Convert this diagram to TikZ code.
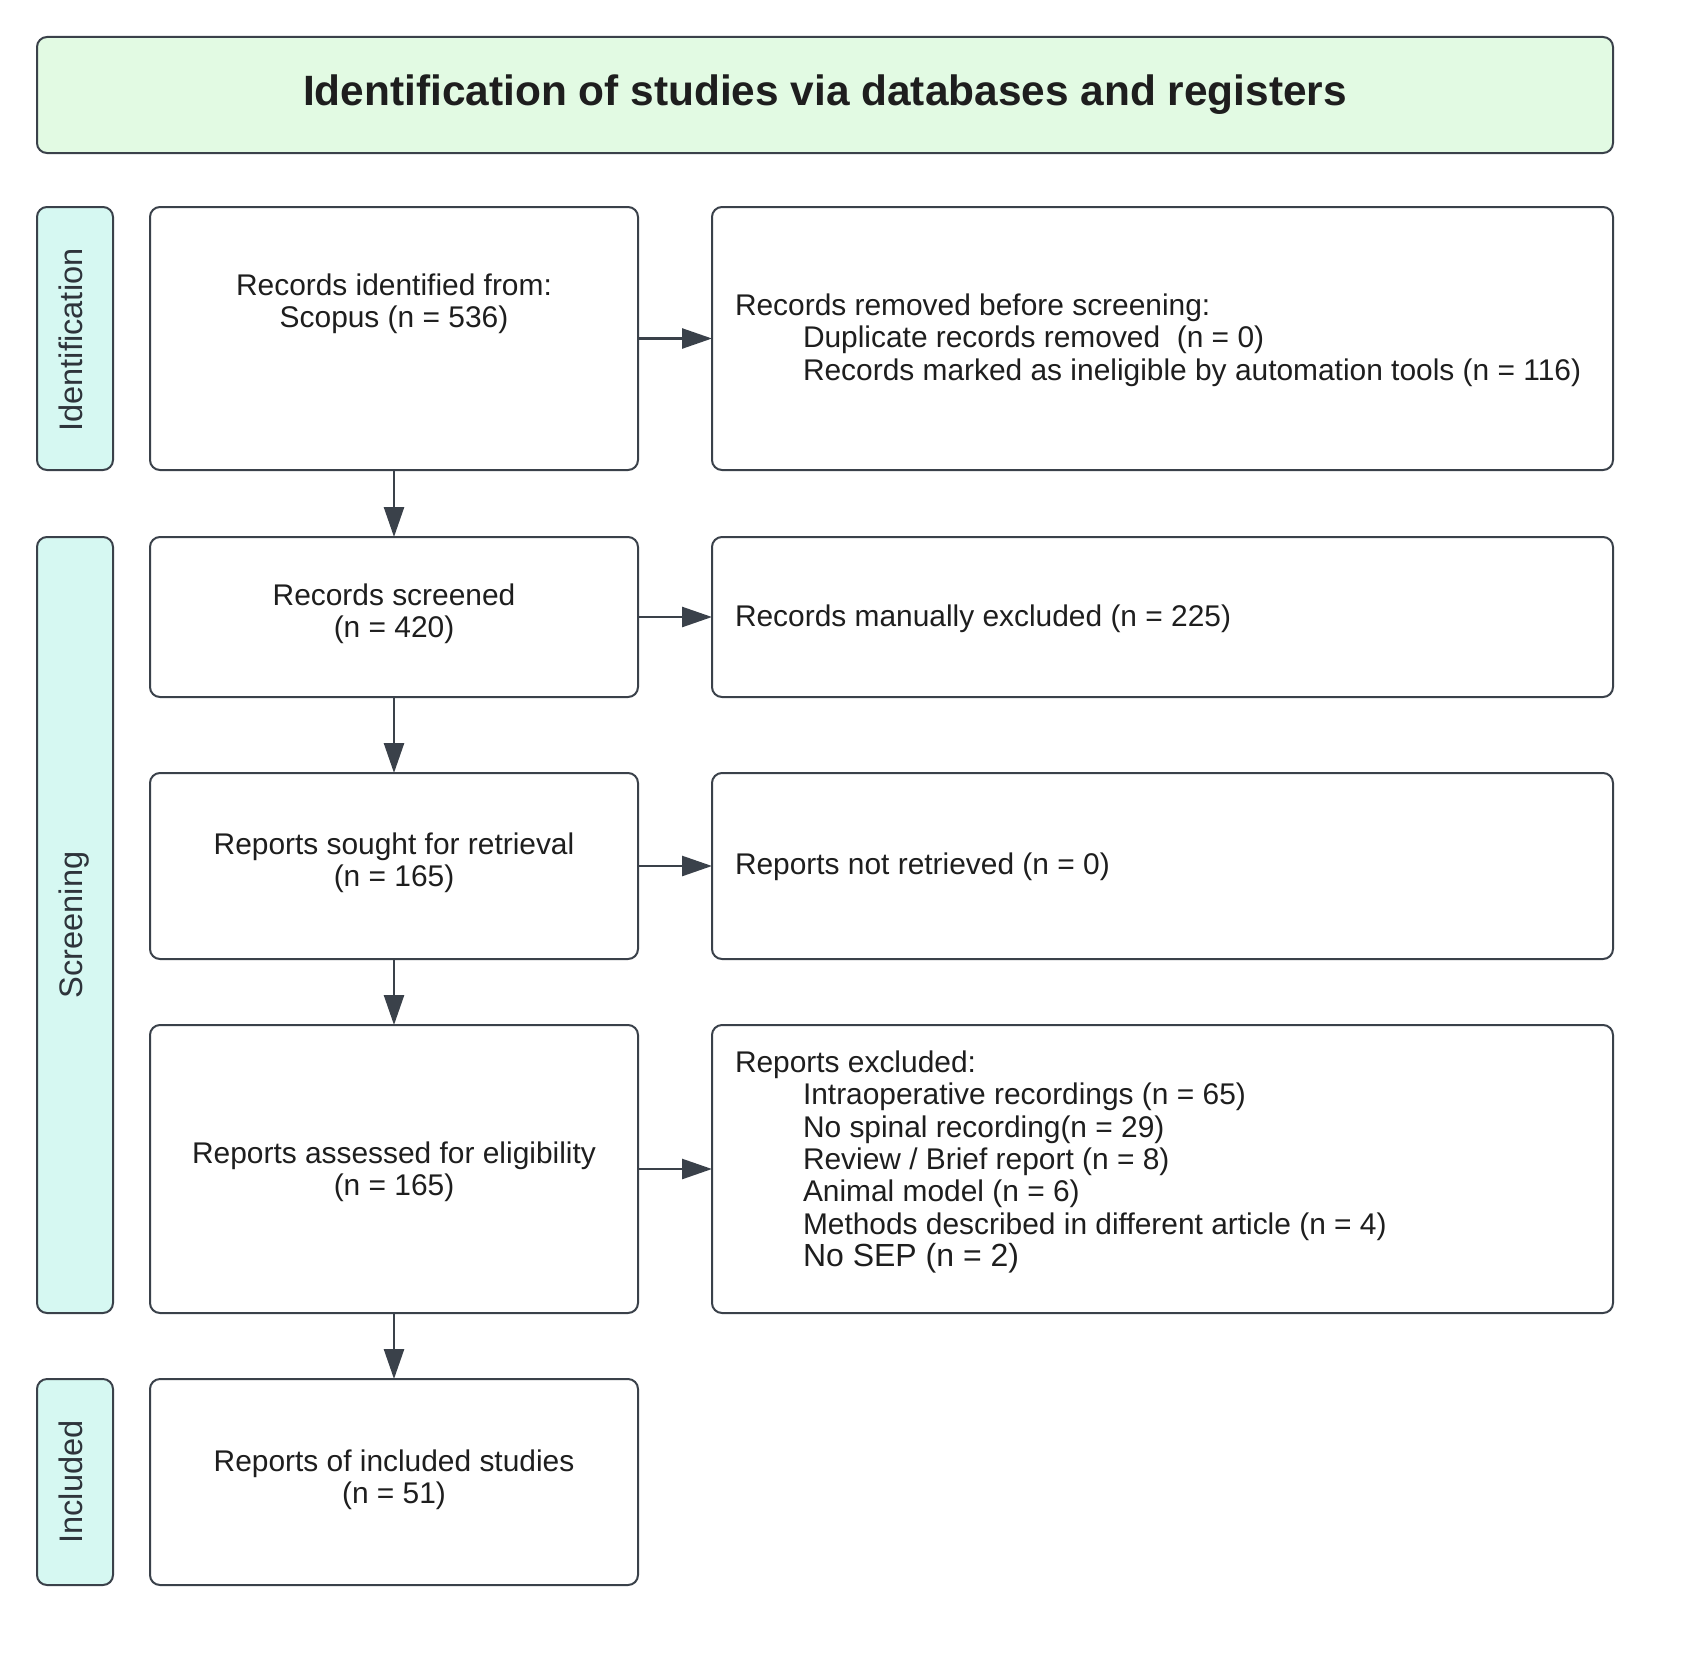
\documentclass[tikz,border=0pt]{standalone}
\usepackage{fontspec}
\setmainfont{Liberation Sans}
\usetikzlibrary{arrows.meta}
\definecolor{edge}{HTML}{3A414A}
\definecolor{titlefill}{HTML}{E2FAE3}
\definecolor{sidefill}{HTML}{D6F8F2}
\definecolor{ink}{HTML}{1E1E1E}
\begin{document}
\begin{tikzpicture}[x=1pt,y=-1pt,
  box/.style={draw=edge, line width=2pt, rounded corners=10pt, inner sep=0pt, outer sep=0pt, fill=white},
  sidebox/.style={box, fill=sidefill},
  conn/.style={draw=edge, line width=2.6pt, -{Triangle[length=30pt,width=20pt]}},
  body/.style={text=ink, inner sep=0pt, outer sep=0pt, font=\fontsize{29.9}{32.4}\selectfont},
  side/.style={text=edge!80!black, inner sep=0pt, rotate=90, anchor=base, font=\fontsize{32.6}{36}\selectfont},
  ttl/.style={text=ink, font=\fontsize{42.4}{50}\selectfont\bfseries}
]
\useasboundingbox (0,0) rectangle (1688,1659);

% title
\node[box, fill=titlefill, minimum width=1576pt, minimum height=116pt, ttl] (title) at (825,95) {Identification of studies via databases and registers};

% side boxes
\node[sidebox, minimum width=76pt, minimum height=263pt] (sideI) at (75,338.5) {};
\node[sidebox, minimum width=76pt, minimum height=776pt] (sideS) at (75,925) {};
\node[sidebox, minimum width=76pt, minimum height=206pt] (sideN) at (75,1482) {};
\node[side] (sideIt) at (82,340) {Identification};
\node[side] (sideSt) at (82,925) {Screening};
\node[side] (sideNt) at (82,1482) {Included};

% left column
\node[box, minimum width=488pt, minimum height=263pt] (L1) at (394,338.5) {};
\node[box, minimum width=488pt, minimum height=160pt] (L2) at (394,617) {};
\node[box, minimum width=488pt, minimum height=186pt] (L3) at (394,866) {};
\node[box, minimum width=488pt, minimum height=288pt] (L4) at (394,1169) {};
\node[box, minimum width=488pt, minimum height=206pt] (L5) at (394,1482) {};

% right column
\node[box, minimum width=901pt, minimum height=263pt] (R1) at (1162.5,338.5) {};
\node[box, minimum width=901pt, minimum height=160pt] (R2) at (1162.5,617) {};
\node[box, minimum width=901pt, minimum height=186pt] (R3) at (1162.5,866) {};
\node[box, minimum width=901pt, minimum height=288pt] (R4) at (1162.5,1169) {};

% left texts
\node[body, align=center] (L1t) at (394,304) {Records identified from:\\Scopus (n = 536)};
\node[body, align=center] (L2t) at (394,614) {Records screened\\(n = 420)};
\node[body, align=center] (L3t) at (394,863) {Reports sought for retrieval\\(n = 165)};
\node[body, align=center] (L4t) at (394,1172) {Reports assessed for eligibility\\(n = 165)};
\node[body, align=center] (L5t) at (394,1480) {Reports of included studies\\(n = 51)};

% right texts
\node[body, align=left, anchor=west] (R1t) at (735,340) {Records removed before screening:\\\hspace*{68pt}Duplicate records removed\ \ (n = 0)\\\hspace*{68pt}Records marked as ineligible by automation tools (n = 116)};
\node[body, anchor=west] (R2t) at (735,619) {Records manually excluded (n = 225)};
\node[body, anchor=west] (R3t) at (735,867) {Reports not retrieved (n = 0)};
\node[body, align=left, anchor=west] (R4t) at (735,1162) {Reports excluded:\\\hspace*{68pt}Intraoperative recordings (n = 65)\\\hspace*{68pt}No spinal recording(n = 29)\\\hspace*{68pt}Review / Brief report (n = 8)\\\hspace*{68pt}Animal model (n = 6)\\\hspace*{68pt}Methods described in different article (n = 4)\\\hspace*{68pt}{\fontsize{32}{32.4}\selectfont No SEP (n = 2)}};

% connectors
\draw[conn] (L1) -- (R1);
\draw[conn] (L2) -- (R2);
\draw[conn] (L3) -- (R3);
\draw[conn] (L4) -- (R4);
\draw[conn] (L1) -- (L2);
\draw[conn] (L2) -- (L3);
\draw[conn] (L3) -- (L4);
\draw[conn] (L4) -- (L5);
\end{tikzpicture}
\end{document}
